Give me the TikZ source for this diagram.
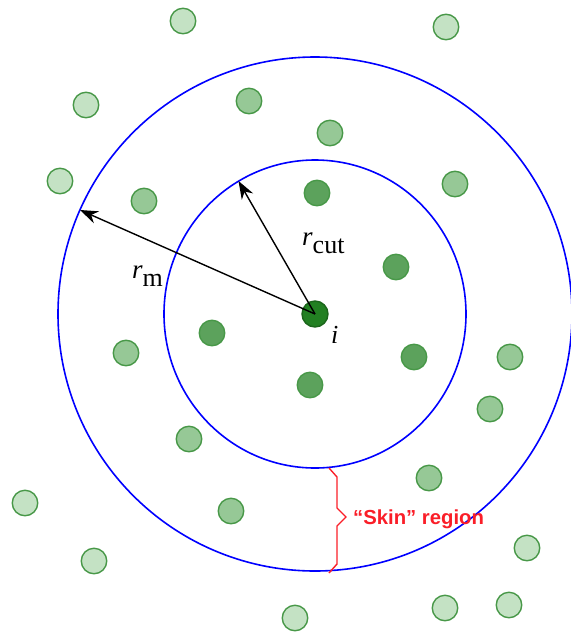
\documentclass[tikz,border=0pt]{standalone}
\usepackage{fontspec}
\setmainfont{Liberation Serif}
\setsansfont{Liberation Sans}
\usetikzlibrary{arrows.meta}

\definecolor{pedge}{RGB}{72,152,72}
\definecolor{plight}{RGB}{196,226,196}
\definecolor{pmid}{RGB}{150,200,150}
\definecolor{pdark}{RGB}{92,162,92}
\definecolor{pcore}{RGB}{34,128,34}
\definecolor{skinred}{RGB}{250,30,40}

\newcommand{\radlbl}[2]{{\fontsize{27}{27}\selectfont\itshape #1}\raisebox{-8pt}{\fontsize{26}{26}\selectfont #2}}

\begin{document}
\begin{tikzpicture}[x=1pt,y=-1pt,
  part/.style={circle,draw=pedge,line width=1.4pt,minimum size=25.5pt,inner sep=0pt},
  far/.style={part,fill=plight},
  skin/.style={part,fill=pmid},
  near/.style={part,fill=pdark},
  ring/.style={draw=blue,line width=1.6pt},
  lbl/.style={inner sep=0pt,anchor=base west},
  radius arrow/.style={-{Stealth[length=18pt,width=13pt]},line width=1.4pt}]
\useasboundingbox (0,0) rectangle (571,633);
% neighbour list and cutoff spheres
\coordinate (c) at (315,314);
\draw[ring] (c) circle[x radius=151,y radius=154];
\draw[ring] (c) circle[radius=257];
% particles outside the list
\foreach \px/\py [count=\k] in {183/21,446/27,86/105,60/181,25/503,94/561,295/618,445/608,509/605,527/548}
  \node[far] (o\k) at (\px,\py) {};
% particles in the skin
\foreach \px/\py [count=\k] in {249/101,330/133,144/201,455/184,126/353,510/357,490/409,189/439,231/511,429/478}
  \node[skin] (s\k) at (\px,\py) {};
% particles inside the cutoff
\foreach \px/\py [count=\k] in {317/193,396/267,212/333,414/357,310/385}
  \node[near] (n\k) at (\px,\py) {};
\node[part,draw=pcore!80!black,fill=pcore,minimum size=26pt] (i) at (c) {};
\node[lbl] (ilbl) at (331,343) {\fontsize{26}{26}\selectfont\itshape i};
% radii
\coordinate (cuttip) at (238.5,181);
\coordinate (mtip) at (80,210);
\draw[radius arrow] (i.center) -- (cuttip);
\draw[radius arrow] (i.center) -- (mtip);
\node[lbl] (rcut) at (302,245) {\radlbl{r}{cut}};
\node[lbl] (rm) at (132,278) {\radlbl{r}{m}};
% skin brace
\coordinate (btop) at (329,468);
\coordinate (bbot) at (329,573);
\draw[skinred,line width=1.4pt] (btop) -- ++(8,9) -- (337,508) -- (346,517) -- (337,526) -- (337,564) -- (bbot);
\node[lbl,text=skinred] (skinlbl) at (353,524) {\sffamily\bfseries\fontsize{20.3}{21}\selectfont “Skin” region};
\end{tikzpicture}
\end{document}
